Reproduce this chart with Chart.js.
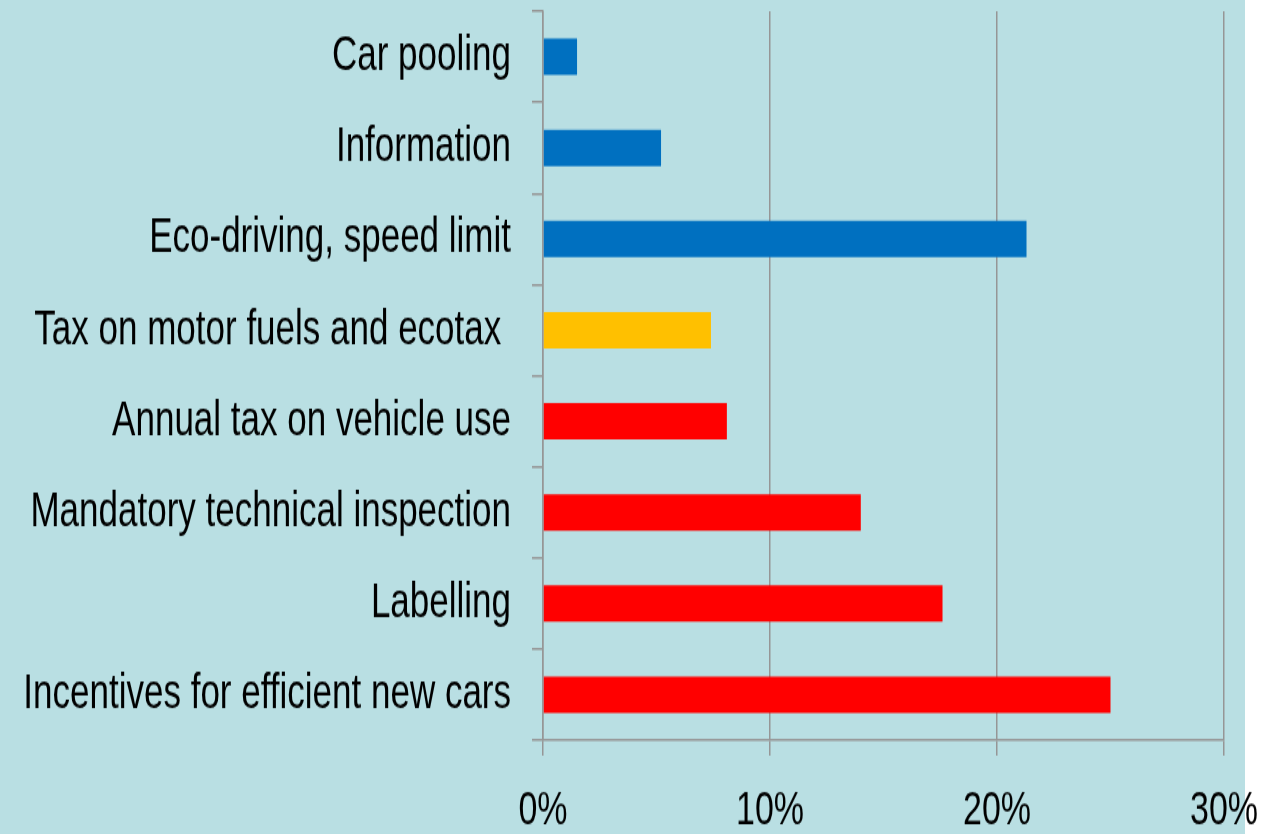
<!DOCTYPE html>
<html>
<head>
<meta charset="utf-8">
<script src="https://cdn.jsdelivr.net/npm/chart.js@4/dist/chart.umd.min.js"></script>
<style>
    html, body { margin: 0; padding: 0; background: #ffffff; overflow: hidden; }
    #bg { position: absolute; left: 0; top: 0; width: 1245px; height: 834px; background: #b9dfe3; }
    /* the original picture is stretched vertically, so the chart is drawn short and scaled up */
    #wrap { position: absolute; left: 0; top: 0; width: 1262px; height: 596px;
            transform: scaleY(1.3993); transform-origin: 0 0; }
</style>
</head>
<body>
<div id="bg"></div>
<div id="wrap"><canvas id="measuresChart"></canvas></div>
<script>
// Chart data
const categories = [
    'Car pooling',
    'Information',
    'Eco-driving, speed limit',
    'Tax on motor fuels and ecotax ',
    'Annual tax on vehicle use',
    'Mandatory technical inspection',
    'Labelling',
    'Incentives for efficient new cars'
];
const shares = [1.5, 5.2, 21.3, 7.4, 8.1, 14.0, 17.6, 25.0];
const xTicks = [0, 10, 20, 30];

// Colors
const blue = '#0070c0';
const yellow = '#ffc000';
const red = '#ff0000';
const gridGray = '#969696';
const barColors = [blue, blue, blue, yellow, red, red, red, red];

document.addEventListener('DOMContentLoaded', function() {
    Chart.defaults.font.family = '"Liberation Sans", Arial, sans-serif';
    Chart.defaults.color = '#000000';

    const ctx = document.getElementById('measuresChart');
    new Chart(ctx, {
        type: 'bar',
        data: {
            labels: categories,
            datasets: [{
                data: shares,
                backgroundColor: barColors,
                borderWidth: 0,
                barPercentage: 0.4,
                categoryPercentage: 1.0
            }]
        },
        options: {
            indexAxis: 'y',
            responsive: true,
            maintainAspectRatio: false,
            animation: false,
            layout: {
                padding: { top: 8, right: 38, left: 0, bottom: 0 }
            },
            plugins: {
                legend: { display: false },
                tooltip: { enabled: false }
            },
            scales: {
                x: {
                    min: xTicks[0],
                    max: xTicks[xTicks.length - 1],
                    afterBuildTicks: function(scale) {
                        scale.ticks = xTicks.map(v => ({ value: v }));
                    },
                    afterFit: function(scale) {
                        scale.height = 67;
                        scale.paddingLeft = 0;
                        scale.paddingRight = 0;
                    },
                    grid: {
                        color: gridGray,
                        lineWidth: 1.5,
                        tickLength: 11
                    },
                    border: { color: gridGray, width: 1.5 },
                    ticks: {
                        padding: 24,
                        maxRotation: 0,
                        font: { size: 34, lineHeight: 0.94 },
                        callback: function(value) { return value + '%'; }
                    }
                },
                y: {
                    afterFit: function(scale) {
                        scale.width = 543;
                        scale.paddingTop = 0;
                        scale.paddingBottom = 0;
                    },
                    grid: {
                        drawOnChartArea: false,
                        color: gridGray,
                        lineWidth: 1.5,
                        tickLength: 11
                    },
                    border: { color: gridGray, width: 1.5 },
                    ticks: {
                        padding: 21,
                        font: { size: 35 }
                    }
                }
            }
        }
    });
});
</script>
</body>
</html>
